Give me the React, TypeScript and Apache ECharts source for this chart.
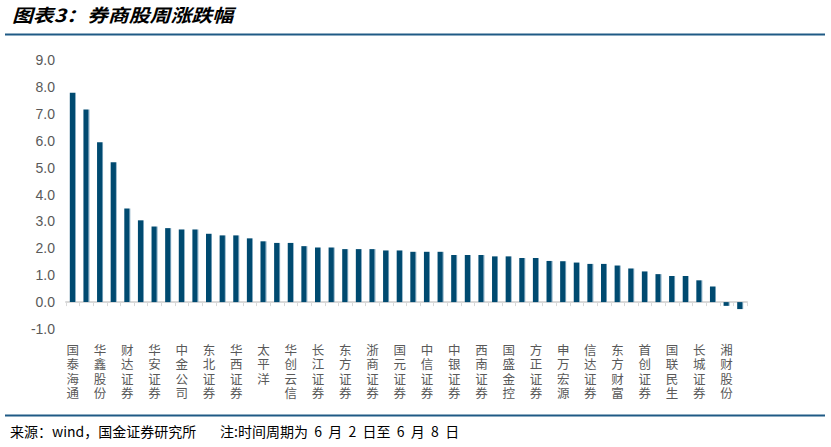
import React, { useEffect, useRef } from "react";
import * as echarts from "echarts";

const titleText = "图表3：券商股周涨跌幅";
const footerSource = "来源：wind，国金证券研究所";
const footerNote = "注:时间周期为  6  月  2  日至  6  月  8  日";

// 50 brokers; only every other name is printed on the axis in the reference
const labeledNames = [
  "国泰海通", "华鑫股份", "财达证券", "华安证券", "中金公司", "东北证券", "华西证券",
  "太平洋", "华创云信", "长江证券", "东方证券", "浙商证券", "国元证券", "中信证券",
  "中银证券", "西南证券", "国盛金控", "方正证券", "申万宏源", "信达证券", "东方财富",
  "首创证券", "国联民生", "长城证券", "湘财股份",
];

const values = [
  7.78, 7.16, 5.94, 5.2, 3.48, 3.04, 2.81, 2.75, 2.7, 2.7,
  2.54, 2.48, 2.48, 2.37, 2.26, 2.2, 2.2, 2.08, 2.03, 2.03,
  1.97, 1.97, 1.97, 1.92, 1.92, 1.87, 1.87, 1.87, 1.75, 1.75,
  1.75, 1.7, 1.7, 1.64, 1.64, 1.53, 1.52, 1.47, 1.42, 1.42,
  1.36, 1.25, 1.14, 1.04, 0.97, 0.97, 0.81, 0.58, -0.14, -0.26,
];

const categories: string[] = values.map((_, i) =>
  i % 2 === 0 ? labeledNames[i / 2] : " ".repeat(i)
);

const yMin = -1;
const yMax = 9;
const yInterval = 1;

export default function App() {
  const ref = useRef<HTMLDivElement>(null);
  useEffect(() => {
    if (!ref.current) return;
    const chart = echarts.init(ref.current, undefined, { renderer: "svg" });
    const font = "'Noto Sans CJK SC', 'Noto Sans', sans-serif";
    chart.setOption({
      animation: false,
      backgroundColor: "#ffffff",
      grid: { left: 66, right: 84, top: 60, bottom: 118, containLabel: false },
      xAxis: {
        type: "category",
        data: categories,
        axisLine: { onZero: true, lineStyle: { color: "#d9d9d9", width: 2 } },
        axisTick: { show: true, alignWithLabel: false, interval: 0, length: 4, lineStyle: { color: "#d9d9d9", width: 1 } },
        axisLabel: {
          interval: 0,
          color: "#595959",
          fontSize: 12.5,
          lineHeight: 14.5,
          fontFamily: font,
          margin: 13,
          verticalAlign: "top",
          formatter: (v: string) => (v.trim() === "" ? "" : v.split("").join("\n")),
        },
      },
      yAxis: {
        type: "value",
        min: yMin,
        max: yMax,
        interval: yInterval,
        splitLine: { show: false },
        axisLine: { show: false },
        axisTick: { show: false },
        axisLabel: {
          color: "#595959",
          fontSize: 14,
          fontFamily: "Arial, 'Liberation Sans', sans-serif",
          margin: 11,
          formatter: (v: number) => v.toFixed(1),
        },
      },
      series: [
        {
          type: "bar",
          data: values,
          barWidth: 6,
          itemStyle: {
            color: new echarts.graphic.LinearGradient(0, 0, 1, 0, [
              { offset: 0, color: "#004a70" },
              { offset: 0.8, color: "#004a70" },
              { offset: 0.84, color: "#5f8fab" },
              { offset: 1, color: "#7aa3bb" },
            ]),
          },
        },
      ],
      graphic: [
        {
          type: "text",
          x: 12,
          y: 5,
          scaleX: 1.16,
          style: {
            text: titleText,
            fontSize: 18,
            fontWeight: "bold",
            fontStyle: "italic",
            fontFamily: font,
            fill: "#000000",
          },
        },
        {
          type: "line",
          shape: { x1: 5, y1: 34.5, x2: 825, y2: 34.5 },
          style: { stroke: "#1f5a85", lineWidth: 2 },
        },
        {
          type: "line",
          shape: { x1: 5, y1: 415.5, x2: 825, y2: 415.5 },
          style: { stroke: "#1f5a85", lineWidth: 2 },
        },
        {
          type: "text",
          left: 10,
          top: 424,
          style: {
            text: footerSource,
            fontSize: 14,
            fontFamily: font,
            fill: "#000000",
          },
        },
        {
          type: "text",
          left: 220,
          top: 424,
          style: {
            text: footerNote,
            fontSize: 14,
            fontFamily: font,
            fill: "#000000",
          },
        },
      ],
    });
    return () => chart.dispose();
  }, []);
  return <div ref={ref} style={{ width: 831, height: 447, position: "absolute", left: 0, top: 0 }} />;
}
